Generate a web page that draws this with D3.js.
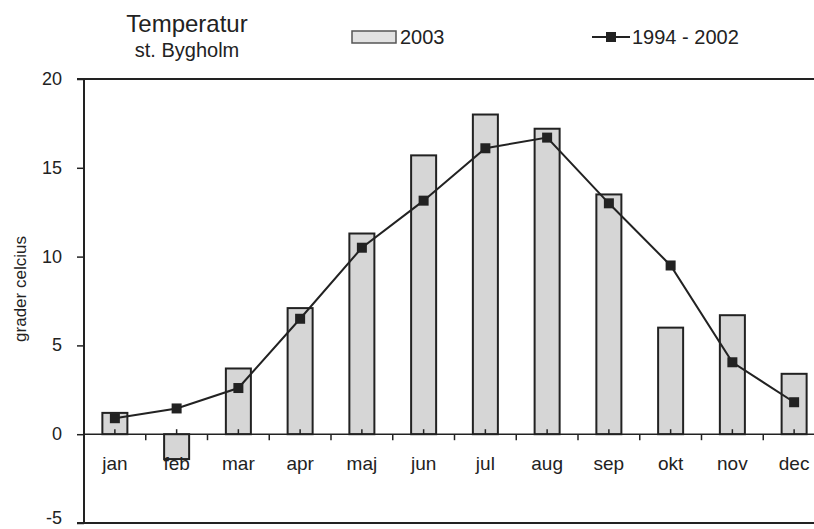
<!DOCTYPE html>
<html>
<head>
<meta charset="utf-8">
<script src="https://cdn.jsdelivr.net/npm/d3@7"></script>
<style>
    body { margin: 0; background: #fff; }
    text { font-family: "Liberation Sans", Arial, sans-serif; fill: #222; }
</style>
</head>
<body>
<div id="chart"></div>
<script>
// months + values
const months = ["jan", "feb", "mar", "apr", "maj", "jun", "jul", "aug", "sep", "okt", "nov", "dec"];
const temp2003 = [1.2, -1.4, 3.7, 7.1, 11.3, 15.7, 18.0, 17.2, 13.5, 6.0, 6.7, 3.4];
const temp9402 = [0.9, 1.45, 2.6, 6.5, 10.5, 13.15, 16.1, 16.7, 13.0, 9.5, 4.05, 1.8];
const yTicks = [-5, 0, 5, 10, 15, 20];

function tempChart() {
    const width = 814;
    const height = 529;
    // plot area - right edge runs past the window like in the scan
    const plot = { left: 84, right: 825, top: 79, bottom: 523 };

    const svg = d3.select("#chart")
        .append("svg")
        .attr("width", width)
        .attr("height", height);

    const xScale = d3.scaleBand()
        .domain(months)
        .range([plot.left, plot.right])
        .paddingInner(0.595)
        .paddingOuter(0.2975);

    const yScale = d3.scaleLinear()
        .domain([-5, 20])
        .range([plot.bottom, plot.top]);

    const step = xScale.step();
    const center = m => xScale(m) + xScale.bandwidth() / 2;

    // bars for 2003
    svg.selectAll(".bar")
        .data(months)
        .enter().append("rect")
        .attr("class", "bar")
        .attr("x", d => xScale(d))
        .attr("width", xScale.bandwidth())
        .attr("y", (d, i) => yScale(Math.max(0, temp2003[i])))
        .attr("height", (d, i) => Math.abs(yScale(temp2003[i]) - yScale(0)))
        .attr("fill", "#d6d6d6")
        .attr("stroke", "#222")
        .attr("stroke-width", 2);

    // y axis (ticks outside, on the left), plain hyphen for minus like the scan
    svg.append("g")
        .attr("transform", "translate(" + plot.left + ",0)")
        .call(d3.axisLeft(yScale).tickValues(yTicks).tickSize(7).tickPadding(15)
            .tickFormat(d => String(d)))
        .call(g => g.select(".domain").remove())
        .call(g => g.selectAll("line").attr("stroke", "#222").attr("stroke-width", 1.5))
        .call(g => g.selectAll("text").style("font-size", "18px").attr("fill", "#222")
            .attr("dy", d => d === -5 ? "0.05em" : "0.3em"));

    // frame: left, top and bottom lines
    svg.append("line")
        .attr("x1", plot.left).attr("x2", plot.left)
        .attr("y1", plot.top).attr("y2", plot.bottom)
        .attr("stroke", "#222").attr("stroke-width", 2);
    [plot.top, plot.bottom].forEach(function (y) {
        svg.append("line")
            .attr("x1", plot.left - 7).attr("x2", width)
            .attr("y1", y).attr("y2", y)
            .attr("stroke", "#222").attr("stroke-width", 2);
    });

    // category axis sitting on zero
    const y0 = yScale(0);
    svg.append("line")
        .attr("x1", plot.left).attr("x2", width)
        .attr("y1", y0).attr("y2", y0)
        .attr("stroke", "#222").attr("stroke-width", 1.5);

    // boundary ticks go down, small centre ticks go up
    svg.selectAll(".btick")
        .data(months.slice(1))
        .enter().append("line")
        .attr("class", "btick")
        .attr("x1", d => xScale(d) - (step - xScale.bandwidth()) / 2)
        .attr("x2", d => xScale(d) - (step - xScale.bandwidth()) / 2)
        .attr("y1", y0).attr("y2", y0 + 6)
        .attr("stroke", "#222").attr("stroke-width", 1.5);

    svg.selectAll(".ctick")
        .data(months)
        .enter().append("line")
        .attr("class", "ctick")
        .attr("x1", center).attr("x2", center)
        .attr("y1", y0).attr("y2", y0 - 5)
        .attr("stroke", "#222").attr("stroke-width", 1.5);

    svg.selectAll(".month")
        .data(months)
        .enter().append("text")
        .attr("class", "month")
        .attr("x", center)
        .attr("y", 470)
        .attr("text-anchor", "middle")
        .style("font-size", "19px")
        .text(d => d);

    // 1994 - 2002 line
    const avgLine = d3.line()
        .x((d, i) => center(months[i]))
        .y(d => yScale(d));

    svg.append("path")
        .datum(temp9402)
        .attr("d", avgLine)
        .attr("fill", "none")
        .attr("stroke", "#222")
        .attr("stroke-width", 2);

    svg.selectAll(".marker")
        .data(temp9402)
        .enter().append("rect")
        .attr("class", "marker")
        .attr("x", (d, i) => center(months[i]) - 5)
        .attr("y", d => yScale(d) - 5)
        .attr("width", 10)
        .attr("height", 10)
        .attr("fill", "#222");

    // y label
    svg.append("text")
        .attr("transform", "rotate(-90)")
        .attr("x", -289)
        .attr("y", 26)
        .attr("text-anchor", "middle")
        .style("font-size", "17px")
        .text("grader celcius");

    // title
    svg.append("text")
        .attr("x", 187).attr("y", 32)
        .attr("text-anchor", "middle")
        .style("font-size", "24px")
        .text("Temperatur");
    svg.append("text")
        .attr("x", 187).attr("y", 57)
        .attr("text-anchor", "middle")
        .style("font-size", "20px")
        .text("st. Bygholm");

    // legend
    svg.append("rect")
        .attr("x", 352).attr("y", 31)
        .attr("width", 44).attr("height", 12)
        .attr("fill", "#e2e2e2")
        .attr("stroke", "#555")
        .attr("stroke-width", 1.5);
    svg.append("text")
        .attr("x", 400).attr("y", 44)
        .style("font-size", "20px")
        .text("2003");

    svg.append("line")
        .attr("x1", 592).attr("x2", 630)
        .attr("y1", 37).attr("y2", 37)
        .attr("stroke", "#222").attr("stroke-width", 2);
    svg.append("rect")
        .attr("x", 606).attr("y", 32)
        .attr("width", 10).attr("height", 10)
        .attr("fill", "#222");
    svg.append("text")
        .attr("x", 632).attr("y", 44)
        .style("font-size", "20px")
        .text("1994 - 2002");
}

tempChart();
</script>
</body>
</html>
